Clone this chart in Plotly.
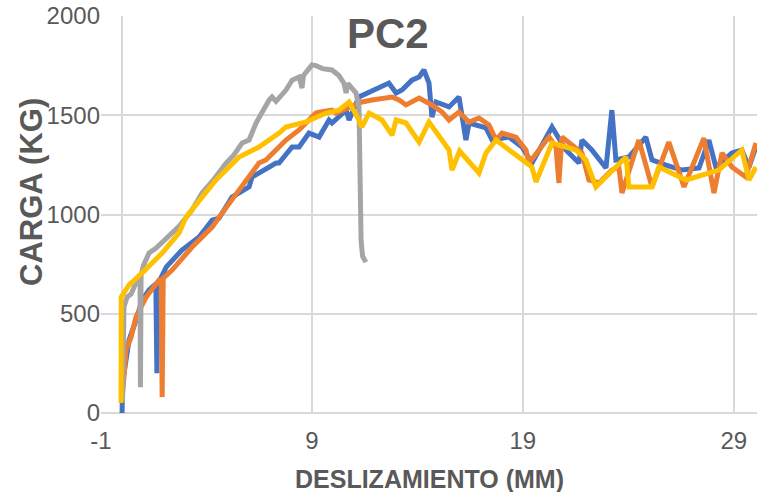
import plotly.graph_objects as go

# ---- data ----
blue_x = [0.0, 0.02, 0.09, 0.33, 0.66, 0.95, 1.28, 1.6, 1.65, 1.7, 2.09, 2.84, 3.65, 4.27, 4.6,
          5.21, 6.02, 6.16, 7.3, 7.44, 8.06, 8.39, 8.86, 9.34, 9.81, 9.95, 10.62, 10.76, 11.23,
          11.71, 12.32, 12.65, 12.99, 13.27, 13.74, 14.08, 14.31, 14.55, 14.69, 14.88, 15.5,
          15.97, 16.3, 16.45, 17.25, 17.54, 18.34, 18.96, 19.43, 20.38, 21.04, 21.66, 21.8,
          22.27, 22.94, 23.22, 23.41, 24.03, 24.83, 25.12, 25.78, 26.54, 27.35, 27.82, 28.15,
          28.91, 29.38, 29.72, 30.05]
blue_y = [0, 150, 200, 367, 468, 569, 620, 650, 200, 650, 735, 821, 887, 972, 982,
          1088, 1139, 1189, 1259, 1259, 1340, 1340, 1410, 1390, 1476, 1461, 1526, 1476, 1592,
          1617, 1642, 1662, 1612, 1627, 1677, 1693, 1728, 1662, 1491, 1567, 1542,
          1592, 1375, 1461, 1436, 1375, 1390, 1340, 1259, 1441, 1325, 1259, 1375,
          1325, 1234, 1526, 1275, 1290, 1390, 1275, 1249, 1224, 1234, 1375, 1239,
          1310, 1325, 1239, 1340]

orange_x = [0.0, 0.19, 0.43, 0.66, 1.14, 1.75, 1.85, 1.9, 1.95, 2.37, 3.32, 4.27, 4.74, 5.69,
            6.02, 6.49, 6.82, 7.44, 7.77, 8.39, 9.0, 9.19, 9.34, 9.95, 10.14, 10.76, 11.37,
            11.85, 12.32, 12.8, 13.13, 13.46, 14.08, 14.69, 15.17, 15.5, 15.97, 16.45, 16.92,
            17.39, 17.73, 18.01, 18.67, 19.15, 19.29, 20.24, 20.57, 20.71, 20.85, 21.8, 22.13,
            22.61, 23.22, 23.55, 23.7, 24.5, 25.12, 25.92, 26.64, 27.58, 28.06, 28.44, 28.91,
            29.57, 30.05]
orange_y = [65, 317, 383, 484, 584, 670, 670, 80, 680, 720, 836, 937, 1007, 1139,
            1189, 1259, 1275, 1340, 1375, 1426, 1491, 1511, 1516, 1526, 1511, 1542, 1567,
            1577, 1587, 1592, 1577, 1552, 1587, 1552, 1516, 1476, 1516, 1466, 1486,
            1451, 1375, 1410, 1390, 1325, 1259, 1390, 1340, 1159, 1390, 1310, 1174,
            1159, 1224, 1239, 1108, 1375, 1139, 1365, 1139, 1385, 1108, 1310, 1239,
            1189, 1360]

gray_x = [0.02, 0.09, 0.24, 0.43, 0.57, 0.8, 0.85, 0.87, 0.9, 1.0, 1.28, 1.6, 2.1, 2.7, 3.3,
          3.79, 4.3, 4.93, 5.3, 5.69, 6.02, 6.35, 6.97, 7.11, 7.3, 7.77, 8.06, 8.39, 8.53,
          8.6, 9.0, 9.19, 9.5, 9.95, 10.28, 10.52, 10.62, 10.7, 11.09, 11.23, 11.33, 11.4,
          11.56]
gray_y = [60, 534, 584, 600, 635, 690, 700, 130, 690, 740, 806, 830, 880, 940, 1020,
          1108, 1170, 1259, 1300, 1360, 1375, 1461, 1577, 1592, 1570, 1627, 1677, 1693, 1637,
          1700, 1753, 1750, 1735, 1728, 1700, 1660, 1612, 1660, 1612, 1542, 871, 790,
          760]

yellow_x = [-0.05, -0.04, 0.33, 0.95, 1.9, 2.7, 3.03, 3.65, 4.45, 5.55, 6.49, 7.44, 7.77,
            8.72, 9.67, 10.28, 10.76, 11.23, 11.37, 11.71, 12.32, 12.8, 12.99, 13.46, 14.08,
            14.55, 15.5, 15.64, 16.0, 16.92, 17.25, 17.73, 18.34, 19.43, 19.62, 20.38, 21.52,
            21.99, 22.46, 23.89, 24.03, 25.12, 25.45, 26.73, 28.29, 29.38, 29.72, 30.05]
yellow_y = [50, 585, 645, 705, 806, 907, 987, 1073, 1174, 1290, 1340, 1410, 1441,
            1466, 1511, 1526, 1567, 1476, 1441, 1511, 1476, 1400, 1476, 1461, 1365,
            1466, 1325, 1224, 1320, 1209, 1310, 1375, 1325, 1239, 1164, 1360, 1325,
            1275, 1139, 1290, 1139, 1139, 1239, 1174, 1224, 1325, 1174, 1239]

x_tickvals = [-1, 9, 19, 29]
x_ticktext = ["-1", "9", "19", "29"]
y_tickvals = [0, 500, 1000, 1500, 2000]

series = [
    ("Serie 1", blue_x, blue_y, "#4472C4"),
    ("Serie 2", orange_x, orange_y, "#ED7D31"),
    ("Serie 3", gray_x, gray_y, "#A5A5A5"),
    ("Serie 4", yellow_x, yellow_y, "#FFC000"),
]

fig = go.Figure()
for name, xs, ys, col in series:
    fig.add_trace(go.Scatter(x=xs, y=ys, mode="lines", name=name,
                             line=dict(color=col, width=5)))

txt = "#595959"
grid = "#D9D9D9"
L, T, PW, PH = 101, 16, 656, 397

def px_x(p):
    return (p - L) / PW

def px_y(p):
    return 1 - (p - T) / PH

fig.update_layout(
    width=757, height=492,
    margin=dict(l=L, r=757 - L - PW, t=T, b=492 - T - PH, autoexpand=False),
    paper_bgcolor="white", plot_bgcolor="white",
    showlegend=False,
    font=dict(family="Liberation Sans, Arial, sans-serif", color=txt),
    annotations=[
        dict(text="<b>PC2</b>", x=px_x(388), y=px_y(33), xref="paper", yref="paper",
             xanchor="center", yanchor="middle", showarrow=False,
             font=dict(size=42, color=txt)),
        dict(text="<b>DESLIZAMIENTO (MM)</b>", x=px_x(429), y=px_y(479),
             xref="paper", yref="paper", xanchor="center", yanchor="middle",
             showarrow=False, font=dict(size=25, color=txt)),
        dict(text="<b>CARGA (KG)</b>", x=px_x(31), y=px_y(192),
             xref="paper", yref="paper", xanchor="center", yanchor="middle",
             textangle=-90, showarrow=False, font=dict(size=31, color=txt)),
    ],
)

fig.update_xaxes(range=[-1, 30.1], tickvals=x_tickvals, ticktext=x_ticktext,
                 automargin=False,
                 showgrid=True, gridcolor=grid, gridwidth=1.5,
                 zeroline=True, zerolinecolor=grid, zerolinewidth=1.5,
                 showline=False, ticks="", ticklabelstandoff=11,
                 tickfont=dict(size=24, color=txt))
fig.update_yaxes(range=[0, 2000], tickvals=y_tickvals, automargin=False,
                 showgrid=True, gridcolor=grid, gridwidth=1.5,
                 zeroline=True, zerolinecolor=grid, zerolinewidth=1.5,
                 showline=False, ticks="", ticklabelstandoff=0,
                 tickfont=dict(size=24, color=txt))

fig.write_html("out.html",
               config={"displayModeBar": False},
               post_script="document.body.style.margin='0';document.body.style.overflow='hidden';")
